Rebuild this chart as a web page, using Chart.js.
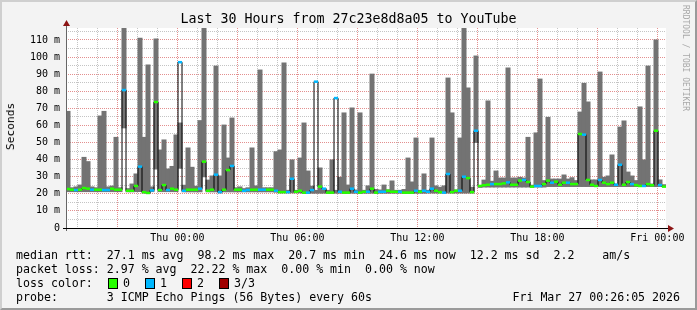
<!DOCTYPE html>
<html>
<head>
<meta charset="utf-8">
<script src="https://cdn.jsdelivr.net/npm/chart.js@4.4.1/dist/chart.umd.min.js"></script>
<style>
  html, body { margin: 0; padding: 0; background: #f3f3f3; }
  #graph { position: relative; width: 697px; height: 310px; background: #f3f3f3; overflow: hidden;
           font-family: "DejaVu Sans Mono", monospace; color: #000; }
  #frame { position: absolute; left: 0; top: 0; width: 697px; height: 310px; box-sizing: border-box;
           border-style: solid; border-width: 2px; border-color: #cfcfcf #9a9a9a #9a9a9a #cfcfcf; pointer-events: none; }
  #plotWrap { position: absolute; left: 0; top: 0; width: 697px; height: 250px; }
  #title { position: absolute; left: 0; top: 11px; width: 697px; text-align: center; font-size: 13.3px; line-height: 16px; }
  #ylabel { position: absolute; left: 4px; top: 103px; font-size: 11.2px; line-height: 14px; white-space: nowrap;
            writing-mode: vertical-rl; transform: rotate(180deg); }
  #credit { position: absolute; left: 681px; top: 5px; font-size: 8px; color: #a8a8a8; writing-mode: vertical-rl; white-space: nowrap; }
  .leg { position: absolute; font-size: 11.6px; line-height: 14px; white-space: pre; }
  .box { position: absolute; width: 8px; height: 9px; border: 1px solid #000; }
</style>
</head>
<body>
<div id="graph">
  <div id="plotWrap"><canvas id="chartSmoke"></canvas></div>
  <div id="title">Last 30 Hours from 27c23e8d8a05 to YouTube</div>
  <div id="ylabel">Seconds</div>
  <div id="credit">RRDTOOL / TOBI OETIKER</div>

  <div class="leg" style="left:16px; top:248px;">median rtt:  27.1 ms avg  98.2 ms max  20.7 ms min  24.6 ms now  12.2 ms sd  2.2    am/s</div>
  <div class="leg" style="left:16px; top:262px;">packet loss: 2.97 % avg  22.22 % max  0.00 % min  0.00 % now</div>
  <div class="leg" style="left:16px; top:276px;">loss color:</div>
  <div id="lossLegend"></div>
  <div class="leg" style="left:16px; top:290px;">probe:       3 ICMP Echo Pings (56 Bytes) every 60s</div>
  <div class="leg" style="right:17px; top:290px;">Fri Mar 27 00:26:05 2026</div>
  <div id="frame"></div>
</div>

<script>
// time in hours relative to Thu 00:00, one step = 12 minutes, graph starts Wed 18:26
const START_H = -(5 + 34 / 60);
const STEP_H = 0.2;
const SPAN_H = 30;

// median rtt per step (ms)
const medianMs = [
    22.8, 22.4, 22.2, 22.4, 23.4, 23.0, 22.4, 22.4, 22.4, 22.2,
    22.2, 23.0, 22.4, 22.4, 80.7, 21.8, 21.8, 24.6, 35.9, 21.0,
    20.5, 22.0, 73.7, 22.2, 25.1, 22.2, 23.0, 22.4, 97.0, 21.8,
    22.4, 22.4, 22.4, 23.0, 38.8, 21.8, 22.4, 31.2, 21.0, 22.4,
    33.9, 36.3, 22.4, 22.4, 21.8, 22.2, 22.4, 22.4, 22.4, 22.4,
    22.4, 22.4, 21.8, 21.0, 21.0, 21.0, 28.8, 21.2, 21.8, 20.7,
    20.7, 22.2, 85.6, 24.2, 23.0, 20.7, 20.7, 76.0, 21.2, 20.7,
    20.7, 23.0, 21.2, 20.7, 21.2, 21.2, 23.0, 20.7, 21.2, 21.2,
    21.8, 21.2, 21.2, 21.2, 20.7, 20.7, 20.7, 21.8, 21.2, 21.8,
    21.2, 23.0, 21.8, 21.0, 20.7, 31.6, 21.0, 21.8, 21.8, 30.0,
    29.2, 21.0, 56.9, 24.6, 25.0, 25.3, 25.7, 25.7, 25.7, 26.1,
    26.7, 25.3, 25.3, 27.7, 28.1, 26.9, 24.2, 24.6, 24.6, 25.7,
    27.7, 26.5, 27.1, 25.3, 26.5, 26.5, 25.7, 25.7, 55.0, 54.6,
    28.1, 25.3, 24.6, 28.1, 26.5, 25.7, 26.5, 25.3, 37.0, 25.3,
    26.9, 25.7, 25.1, 24.6, 24.6, 25.7, 25.0, 56.9, 25.1, 24.2
];

// lost pings per step (of 3)
const lossCount = [
    0, 0, 1, 0, 0, 0, 1, 0, 0, 1,  1, 0, 0, 0, 1, 0, 0, 0, 1, 0,  0, 1, 0, 0, 0, 1, 0, 0, 1, 1,
    0, 0, 0, 1, 0, 0, 0, 1, 1, 0,  0, 1, 0, 0, 1, 1, 0, 0, 1, 1,  0, 0, 1, 0, 0, 1, 1, 0, 0, 0,
    1, 1, 1, 0, 1, 0, 0, 1, 1, 0,  0, 1, 1, 0, 0, 1, 0, 0, 1, 1,  0, 0, 0, 1, 0, 0, 0, 1, 0, 1,
    1, 1, 0, 0, 1, 1, 0, 0, 1, 1,  0, 0, 1, 0, 0, 0, 1, 0, 0, 0,  1, 0, 0, 0, 1, 0, 0, 1, 1, 0,
    0, 1, 0, 0, 0, 1, 0, 0, 0, 1,  0, 0, 0, 1, 0, 0, 0, 1, 1, 0,  0, 1, 0, 0, 1, 0, 0, 0, 1, 0
];

// smoke (ping spread) per step, low and high edge (ms)
const smokeLo = [
    21.3, 21.3, 21.3, 21.3, 21.3, 21.3, 21.3, 21.3, 21.3, 21.3,
    21.3, 21.3, 21.3, 21.3, 58.6, 21.2, 21.2, 21.3, 21.3, 20.5,
    20.2, 21.3, 34.5, 21.3, 21.3, 21.3, 21.3, 21.3, 35.0, 21.2,
    21.2, 21.2, 21.2, 21.2, 30.0, 21.2, 21.2, 21.2, 20.6, 21.2,
    21.2, 21.2, 21.2, 21.2, 21.2, 21.2, 21.2, 21.2, 21.2, 21.2,
    21.2, 21.2, 21.0, 20.6, 20.6, 20.6, 20.6, 20.6, 20.6, 20.3,
    20.4, 20.4, 20.4, 20.4, 20.4, 20.4, 20.4, 20.4, 20.4, 20.4,
    20.4, 20.4, 20.4, 20.4, 20.4, 20.4, 20.4, 20.4, 20.4, 20.4,
    20.4, 20.4, 20.4, 20.4, 20.4, 20.4, 20.4, 20.4, 20.4, 20.4,
    20.5, 20.5, 20.5, 20.5, 20.5, 20.5, 20.5, 20.5, 20.5, 20.5,
    20.5, 20.5, 50.1, 24.0, 24.0, 24.0, 24.0, 24.0, 24.0, 24.0,
    24.0, 24.0, 24.0, 24.0, 24.0, 24.0, 24.0, 24.0, 24.0, 24.0,
    24.3, 24.3, 24.3, 24.3, 24.3, 24.3, 24.3, 24.3, 24.3, 24.3,
    24.3, 24.3, 24.3, 24.3, 24.3, 24.3, 24.3, 24.3, 24.3, 24.3,
    24.3, 24.3, 24.3, 24.3, 24.3, 24.3, 24.3, 24.3, 24.3, 24.3
];
const smokeHi = [
    68.2, 23.5, 24.0, 25.1, 41.3, 38.8, 24.0, 23.5, 65.5, 68.2,
    24.0, 24.5, 53.0, 23.5, 120, 23.0, 25.7, 31.6, 111.0, 53.0,
    95.3, 24.0, 110.5, 45.6, 51.5, 34.5, 36.0, 54.4, 61.4, 25.0,
    46.8, 35.5, 24.4, 62.8, 120, 28.0, 30.4, 94.7, 30.4, 60.2,
    40.9, 64.3, 23.5, 24.0, 23.0, 23.5, 46.8, 24.6, 92.4, 23.5,
    23.5, 23.5, 44.6, 45.6, 96.5, 22.0, 39.8, 22.0, 40.9, 61.4,
    33.3, 24.4, 22.0, 35.1, 23.0, 22.0, 39.8, 22.0, 29.6, 67.3,
    25.1, 70.2, 22.2, 67.3, 22.0, 24.6, 90.0, 22.5, 22.2, 25.1,
    22.3, 27.5, 22.0, 22.0, 22.5, 40.9, 26.9, 52.6, 22.0, 31.6,
    22.0, 52.6, 24.6, 23.8, 24.6, 87.7, 67.3, 22.2, 52.6, 120,
    81.9, 23.8, 100.6, 23.8, 28.0, 74.3, 27.3, 33.3, 29.2, 29.2,
    93.6, 29.2, 29.2, 29.6, 29.2, 53.0, 25.0, 55.6, 87.1, 27.7,
    64.7, 28.6, 28.6, 28.6, 31.0, 28.6, 29.4, 27.7, 67.8, 84.6,
    73.7, 28.1, 28.1, 91.2, 29.6, 30.4, 42.7, 25.7, 59.0, 62.6,
    32.7, 30.4, 27.7, 70.8, 39.8, 94.7, 25.7, 110.0, 28.1, 25.3
];

// axis ticks and labels
const rttTicks  = [0, 10, 20, 30, 40, 50, 60, 70, 80, 90, 100, 110];
const rttLabels = ['0', '10 m', '20 m', '30 m', '40 m', '50 m', '60 m', '70 m', '80 m', '90 m', '100 m', '110 m'];
const timeTicks  = [0, 6, 12, 18, 24];
const timeLabels = ['Thu 00:00', 'Thu 06:00', 'Thu 12:00', 'Thu 18:00', 'Fri 00:00'];

// loss legend
const lossNames  = ['0', '1', '2', '3/3'];
const lossColors = ['#26ff00', '#00b8ff', '#ff0000', '#a00000'];

const SMOKE = '#737373';
const GRID_MINOR = '#c4c4c4';
const GRID_MAJOR = '#e38f8f';

const legendBoxX = [108, 145, 182, 219];
const lossLegend = document.getElementById('lossLegend');
lossNames.forEach((name, i) => {
    const box = document.createElement('div');
    box.className = 'box';
    box.style.left = legendBoxX[i] + 'px';
    box.style.top = '278px';
    box.style.background = lossColors[i];
    lossLegend.appendChild(box);
    const txt = document.createElement('div');
    txt.className = 'leg';
    txt.style.left = (legendBoxX[i] + 15) + 'px';
    txt.style.top = '276px';
    txt.textContent = name;
    lossLegend.appendChild(txt);
});

const stepTimes = medianMs.map((_, i) => START_H + (i + 0.5) * STEP_H);

const hourGrid = [];
for (let h = Math.ceil(START_H); h <= START_H + SPAN_H; h++) hourGrid.push(h);
const rttGrid = [];
for (let v = 0; v <= 115; v += 5) rttGrid.push(v);

const canvasBg = {
    id: 'canvasBg',
    beforeDraw(chart) {
        const { ctx, chartArea: a } = chart;
        ctx.save();
        ctx.fillStyle = '#ffffff';
        ctx.fillRect(a.left, a.top, a.right - a.left, a.bottom - a.top);
        ctx.restore();
    }
};

const axisArrows = {
    id: 'axisArrows',
    afterDraw(chart) {
        const { ctx, chartArea: a } = chart;
        const x0 = Math.round(a.left) + 0.5;
        const y0 = Math.round(a.bottom) + 0.5;
        ctx.save();
        ctx.lineWidth = 1;
        ctx.strokeStyle = '#666';
        ctx.beginPath();
        ctx.moveTo(x0, a.bottom + 3);
        ctx.lineTo(x0, a.top - 4);
        ctx.stroke();
        ctx.strokeStyle = '#000';
        ctx.beginPath();
        ctx.moveTo(a.left - 3, y0);
        ctx.lineTo(a.right + 3, y0);
        ctx.stroke();
        ctx.fillStyle = '#8c1414';
        ctx.beginPath();
        ctx.moveTo(x0, a.top - 8);
        ctx.lineTo(x0 - 3.5, a.top - 2);
        ctx.lineTo(x0 + 3.5, a.top - 2);
        ctx.closePath();
        ctx.fill();
        ctx.beginPath();
        ctx.moveTo(a.right + 8, y0);
        ctx.lineTo(a.right + 2, y0 - 3.5);
        ctx.lineTo(a.right + 2, y0 + 3.5);
        ctx.closePath();
        ctx.fill();
        ctx.restore();
    }
};

new Chart(document.getElementById('chartSmoke'), {
    type: 'bar',
    data: {
        datasets: [
            {
                type: 'bar',
                data: stepTimes.map((t, i) => ({ x: t, y: [smokeLo[i], smokeHi[i]] })),
                backgroundColor: SMOKE,
                borderWidth: 0,
                barPercentage: 1,
                categoryPercentage: 1,
                inflateAmount: 0.5,
                grouped: false,
                order: 3
            },
            {
                type: 'line',
                data: stepTimes.map((t, i) => ({ x: t, y: medianMs[i] })),
                borderColor: '#000',
                borderWidth: 1,
                pointRadius: 0,
                stepped: 'middle',
                order: 2
            },
            {
                type: 'line',
                data: stepTimes.map((t, i) => ({ x: t, y: medianMs[i] })),
                showLine: false,
                pointStyle: 'line',
                pointRadius: 2.1,
                pointBorderWidth: 2.5,
                pointBorderColor: ctx => lossColors[lossCount[ctx.dataIndex]],
                pointBackgroundColor: ctx => lossColors[lossCount[ctx.dataIndex]],
                order: 1
            }
        ]
    },
    options: {
        responsive: true,
        maintainAspectRatio: false,
        devicePixelRatio: 1,
        animation: false,
        events: [],
        layout: { padding: { top: 28, right: 31, bottom: 0, left: 0 } },
        plugins: { legend: { display: false }, tooltip: { enabled: false } },
        scales: {
            x: {
                type: 'linear',
                min: START_H,
                max: START_H + SPAN_H,
                offset: false,
                afterFit: s => { s.height = 22; },
                afterBuildTicks: s => { s.ticks = hourGrid.map(v => ({ value: v })); },
                ticks: {
                    autoSkip: false,
                    maxRotation: 0,
                    padding: 4,
                    color: '#000',
                    font: { family: 'DejaVu Sans Mono', size: 10 },
                    callback: v => {
                        const k = timeTicks.indexOf(v);
                        return k < 0 ? '' : timeLabels[k];
                    }
                },
                grid: {
                    offset: false,
                    drawTicks: false,
                    color: c => (c.tick && c.tick.value % 3 === 0) ? GRID_MAJOR : GRID_MINOR
                },
                border: { display: false, dash: [1, 1] }
            },
            y: {
                min: 0,
                max: 117,
                afterFit: s => { s.width = 66; },
                afterBuildTicks: s => { s.ticks = rttGrid.map(v => ({ value: v })); },
                ticks: {
                    autoSkip: false,
                    padding: 6,
                    color: '#000',
                    font: { family: 'DejaVu Sans Mono', size: 10 },
                    callback: v => {
                        const k = rttTicks.indexOf(v);
                        return k < 0 ? '' : rttLabels[k];
                    }
                },
                grid: {
                    drawTicks: false,
                    color: c => (c.tick && c.tick.value % 10 === 0) ? GRID_MAJOR : GRID_MINOR
                },
                border: { display: false, dash: [1, 1] }
            }
        }
    },
    plugins: [canvasBg, axisArrows]
});
</script>
</body>
</html>
